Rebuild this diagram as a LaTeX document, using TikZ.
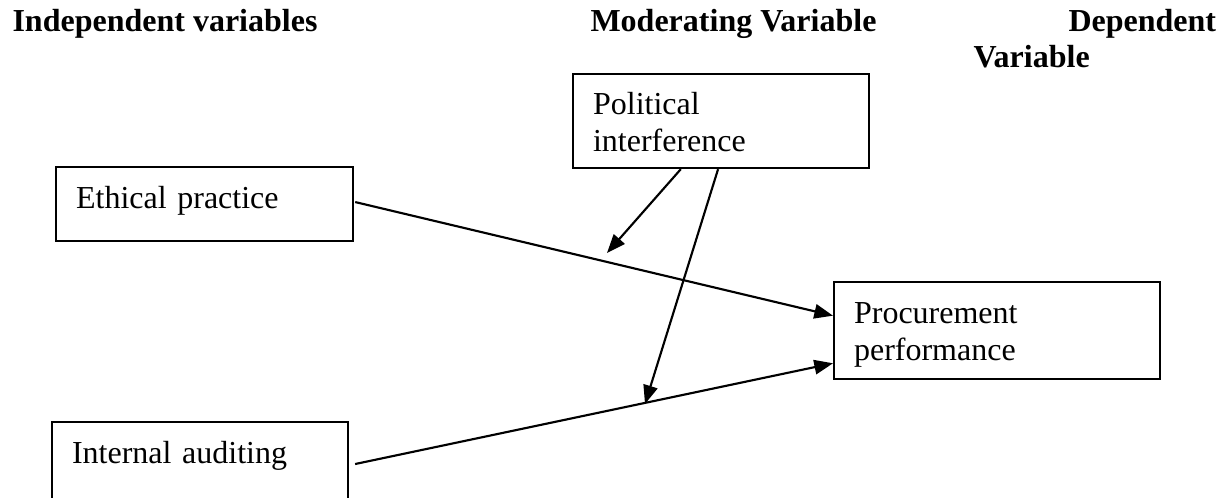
\documentclass[tikz,border=0pt]{standalone}
\usepackage{fontspec}
\setmainfont{Liberation Serif}
\usetikzlibrary{arrows.meta,calc}
\begin{document}
\begin{tikzpicture}[x=0.375pt,y=-0.375pt,
  box/.style={draw, line width=0.8pt, anchor=north west, inner ysep=0pt, inner xsep=7.5pt,
    align=left, font=\fontsize{12}{13.9}\selectfont},
  head/.style={anchor=base west, inner sep=0pt, font=\fontsize{12}{13.9}\selectfont\bfseries},
  arr/.style={line width=0.8pt, -{Triangle[length=7pt,width=5.4pt]}}]
\useasboundingbox (0,0) rectangle (1224,498);
\fill[white] (0,0) rectangle (1224,498);
\clip (0,0) rectangle (1224,498);

% headers
\node[head] (hind) at (12,32) {Independent variables};
\node[head] (hmod) at (590,32) {Moderating Variable};
\node[head] (hdep1) at (1068,32) {Dependent};
\node[head] (hdep2) at (973,68) {Variable};

% boxes
\node[box, text width=96pt, text height=15pt, text depth=20.25pt] (pol) at (572,73) {Political\\interference};
\node[box, text width=96.4pt, text height=15.375pt, text depth=12.375pt] (eth) at (55,166) {Ethical practice};
\node[box, text width=96pt, text height=15.375pt, text depth=16.1pt] (int) at (51,421) {Internal auditing};
\node[box, text width=107.25pt, text height=15.375pt, text depth=21pt] (proc) at (833,281) {Procurement\\performance};

% moderating targets
\coordinate (m1) at (607,253);
\coordinate (m2) at (645,404);

% connectors
\draw[arr] ([shift={(1,-2)}]eth.east) -- ($(proc.north west)!0.35!(proc.south west)$);
\draw[arr] ([shift={(6,0)}]int.east) -- ($(proc.north west)!0.83!(proc.south west)$);
\draw[arr] ($(pol.south west)!0.365!(pol.south east)$) -- (m1);
\draw[arr] ($(pol.south west)!0.49!(pol.south east)$) -- (m2);
\end{tikzpicture}
\end{document}
